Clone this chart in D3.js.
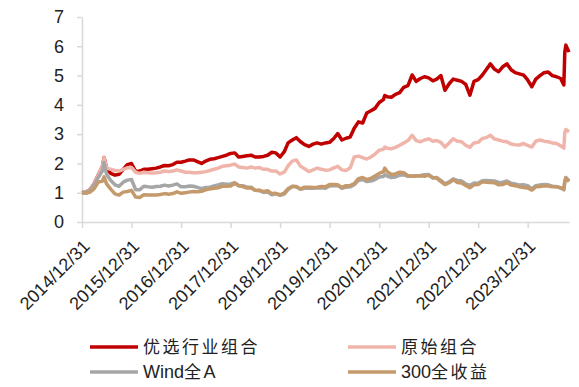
<!DOCTYPE html>
<html>
<head>
<meta charset="utf-8">
<script src="https://cdn.jsdelivr.net/npm/d3@7"></script>
<style>
    body { margin: 0; background: #fff; }
    svg { display: block; }
    .axis path, .axis line { stroke: #d9d9d9; stroke-width: 1.5; }
    .axis text { font-family: "Liberation Sans", Arial, sans-serif; fill: #222; }
    .legend text { font-family: "Liberation Sans", "Noto Sans CJK SC", sans-serif; fill: #222; }
</style>
</head>
<body>
<div id="chart"></div>
<script>
// month-end observations (plus a few daily extremes)
const dates = [
    "2014-12-31",
    "2015-01-31", "2015-02-28", "2015-03-31", "2015-04-30", "2015-05-31", "2015-06-12", "2015-06-30",
    "2015-07-31", "2015-08-31", "2015-09-30", "2015-10-31", "2015-11-30", "2015-12-31",
    "2016-01-31", "2016-02-29", "2016-03-31", "2016-04-30", "2016-05-31", "2016-06-30",
    "2016-07-31", "2016-08-31", "2016-09-30", "2016-10-31", "2016-11-30", "2016-12-31",
    "2017-01-31", "2017-02-28", "2017-03-31", "2017-04-30", "2017-05-31", "2017-06-30",
    "2017-07-31", "2017-08-31", "2017-09-30", "2017-10-31", "2017-11-30", "2017-12-31",
    "2018-01-31", "2018-02-28", "2018-03-31", "2018-04-30", "2018-05-31", "2018-06-30",
    "2018-07-31", "2018-08-31", "2018-09-30", "2018-10-31", "2018-11-30", "2018-12-31",
    "2019-01-31", "2019-02-28", "2019-03-31", "2019-04-30", "2019-05-31", "2019-06-30",
    "2019-07-31", "2019-08-31", "2019-09-30", "2019-10-31", "2019-11-30", "2019-12-31",
    "2020-01-31", "2020-02-29", "2020-03-31", "2020-04-30", "2020-05-31", "2020-06-30",
    "2020-07-31", "2020-08-31", "2020-09-30", "2020-10-31", "2020-11-30", "2020-12-31",
    "2021-01-31", "2021-02-10", "2021-02-28", "2021-03-31", "2021-04-30", "2021-05-31",
    "2021-06-30", "2021-07-31", "2021-08-31", "2021-09-30", "2021-10-31", "2021-11-30", "2021-12-31",
    "2022-01-31", "2022-02-28", "2022-03-31", "2022-04-30", "2022-05-31", "2022-06-30",
    "2022-07-31", "2022-08-31", "2022-09-30", "2022-10-31", "2022-11-30", "2022-12-31",
    "2023-01-31", "2023-02-28", "2023-03-31", "2023-04-30", "2023-05-31", "2023-06-30",
    "2023-07-31", "2023-08-31", "2023-09-30", "2023-10-31", "2023-11-30", "2023-12-31",
    "2024-01-31", "2024-02-29", "2024-03-31", "2024-04-30", "2024-05-31", "2024-06-30",
    "2024-07-31", "2024-08-31", "2024-09-23", "2024-09-30", "2024-10-08", "2024-10-31"
];

const youxuan = [
    1.00,
    1.03, 1.10, 1.32, 1.60, 1.90, 2.20, 1.85, 1.66, 1.60, 1.63, 1.80, 1.96, 2.00,
    1.72, 1.74, 1.80, 1.80, 1.82, 1.84, 1.88, 1.93, 1.92, 1.96, 2.04, 2.04,
    2.08, 2.12, 2.12, 2.06, 2.00, 2.08, 2.14, 2.16, 2.20, 2.24, 2.28, 2.34,
    2.36, 2.22, 2.24, 2.26, 2.28, 2.22, 2.22, 2.24, 2.28, 2.38, 2.36, 2.22,
    2.40, 2.70, 2.80, 2.88, 2.74, 2.64, 2.58, 2.66, 2.70, 2.66, 2.70, 2.72,
    2.85, 3.02, 2.80, 2.86, 2.90, 3.20, 3.42, 3.38, 3.72, 3.80, 3.88, 4.08,
    4.18, 4.32, 4.28, 4.26, 4.36, 4.42, 4.60, 4.66, 5.02, 4.80, 4.90, 4.96, 4.92,
    4.82, 4.88, 5.00, 4.50, 4.72, 4.88, 4.84, 4.80, 4.70, 4.33, 4.80, 4.86,
    5.02, 5.20, 5.40, 5.22, 5.13, 5.30, 5.40, 5.20, 5.10, 5.06, 5.02, 4.85,
    4.62, 4.88, 5.00, 5.10, 5.12, 5.00, 4.96, 4.90, 4.68, 5.80, 6.04, 5.80
];

const yuanshi = [
    1.00,
    1.03, 1.10, 1.32, 1.60, 1.90, 2.20, 1.85, 1.80, 1.76, 1.74, 1.80, 1.85, 1.86,
    1.70, 1.66, 1.70, 1.68, 1.67, 1.68, 1.70, 1.74, 1.72, 1.74, 1.78, 1.74,
    1.70, 1.70, 1.68, 1.68, 1.70, 1.72, 1.76, 1.80, 1.84, 1.90, 1.92, 1.94,
    1.98, 1.88, 1.86, 1.84, 1.88, 1.84, 1.86, 1.80, 1.80, 1.74, 1.74, 1.64,
    1.70, 1.92, 2.08, 2.12, 1.90, 1.82, 1.72, 1.78, 1.84, 1.80, 1.77, 1.78,
    1.85, 1.90, 1.78, 1.76, 1.85, 2.22, 2.25, 2.20, 2.15, 2.22, 2.32, 2.45,
    2.48, 2.56, 2.52, 2.50, 2.55, 2.62, 2.70, 2.78, 2.96, 2.78, 2.74, 2.80, 2.84,
    2.76, 2.78, 2.72, 2.56, 2.70, 2.84, 2.76, 2.74, 2.62, 2.55, 2.70, 2.72,
    2.85, 2.88, 2.96, 2.84, 2.80, 2.76, 2.74, 2.66, 2.64, 2.63, 2.68, 2.62,
    2.56, 2.76, 2.80, 2.76, 2.74, 2.70, 2.68, 2.60, 2.52, 3.05, 3.16, 3.08
];

const windA = [
    1.00,
    1.02, 1.08, 1.27, 1.52, 1.75, 2.03, 1.63, 1.42, 1.27, 1.22, 1.36, 1.43, 1.45,
    1.10, 1.10, 1.22, 1.20, 1.19, 1.21, 1.22, 1.26, 1.23, 1.26, 1.30, 1.20,
    1.20, 1.23, 1.22, 1.18, 1.14, 1.18, 1.19, 1.23, 1.27, 1.31, 1.29, 1.30,
    1.34, 1.25, 1.24, 1.19, 1.19, 1.08, 1.07, 1.01, 1.02, 0.93, 0.96, 0.91,
    0.95, 1.11, 1.22, 1.20, 1.12, 1.15, 1.15, 1.15, 1.16, 1.17, 1.15, 1.23,
    1.24, 1.25, 1.15, 1.19, 1.20, 1.27, 1.42, 1.45, 1.38, 1.40, 1.45, 1.54,
    1.55, 1.62, 1.57, 1.52, 1.54, 1.60, 1.61, 1.56, 1.57, 1.58, 1.59, 1.61, 1.62,
    1.50, 1.52, 1.42, 1.30, 1.37, 1.47, 1.42, 1.40, 1.30, 1.25, 1.33, 1.32,
    1.41, 1.42, 1.41, 1.40, 1.35, 1.36, 1.40, 1.32, 1.30, 1.26, 1.27, 1.24,
    1.13, 1.24, 1.26, 1.28, 1.27, 1.22, 1.21, 1.17, 1.10, 1.38, 1.52, 1.42
];

const hs300 = [
    1.00,
    0.98, 1.02, 1.14, 1.36, 1.40, 1.54, 1.30, 1.12, 0.96, 0.92, 1.02, 1.04, 1.08,
    0.85, 0.84, 0.93, 0.92, 0.92, 0.92, 0.94, 0.97, 0.95, 0.97, 1.03, 0.98,
    1.00, 1.02, 1.04, 1.03, 1.05, 1.10, 1.13, 1.15, 1.17, 1.22, 1.22, 1.23,
    1.32, 1.24, 1.21, 1.16, 1.17, 1.08, 1.09, 1.04, 1.07, 0.97, 0.98, 0.93,
    0.99, 1.14, 1.21, 1.21, 1.13, 1.19, 1.19, 1.18, 1.19, 1.21, 1.20, 1.28,
    1.28, 1.27, 1.18, 1.24, 1.24, 1.31, 1.48, 1.52, 1.45, 1.49, 1.57, 1.66,
    1.72, 1.84, 1.72, 1.62, 1.64, 1.70, 1.68, 1.58, 1.56, 1.57, 1.58, 1.56, 1.60,
    1.52, 1.50, 1.38, 1.28, 1.34, 1.45, 1.35, 1.33, 1.25, 1.17, 1.27, 1.28,
    1.37, 1.36, 1.35, 1.34, 1.27, 1.28, 1.34, 1.26, 1.24, 1.20, 1.18, 1.16,
    1.09, 1.20, 1.21, 1.24, 1.23, 1.20, 1.20, 1.16, 1.12, 1.38, 1.50, 1.38
];

const yTicks = [0, 1, 2, 3, 4, 5, 6, 7];
const xTickLabels = ["2014/12/31", "2015/12/31", "2016/12/31", "2017/12/31", "2018/12/31",
    "2019/12/31", "2020/12/31", "2021/12/31", "2022/12/31", "2023/12/31"];

// drawing order: red first, 300 on top
const seriesList = [
    { name: "优选行业组合", values: youxuan, color: "#c00000" },
    { name: "原始组合", values: yuanshi, color: "#f0b5aa" },
    { name: "Wind全A", values: windA, color: "#a6a6a6" },
    { name: "300全收益", values: hs300, color: "#c49a6c" }
];

const parseDate = d3.timeParse("%Y-%m-%d");
const parseTick = d3.timeParse("%Y/%m/%d");

const W = 579, H = 387;
const margin = { top: 17, left: 82 };
const plotW = 569 - margin.left;
const plotH = 222 - margin.top;

const svg = d3.select("#chart")
    .append("svg")
    .attr("width", W)
    .attr("height", H);

const g = svg.append("g")
    .attr("transform", `translate(${margin.left},${margin.top})`);

const x = d3.scaleTime()
    .domain([parseDate(dates[0]), parseDate(dates[dates.length - 1])])
    .range([0, plotW]);

const y = d3.scaleLinear()
    .domain([0, 7])
    .range([plotH, 0]);

// x axis
const xAxis = d3.axisBottom(x)
    .tickValues(xTickLabels.map(parseTick))
    .tickFormat(d3.timeFormat("%Y/%m/%d"))
    .tickSizeInner(6)
    .tickSizeOuter(0);

g.append("g")
    .attr("class", "axis")
    .attr("transform", `translate(0,${plotH})`)
    .call(xAxis)
    .selectAll("text")
    .attr("font-size", 18)
    .attr("text-anchor", "end")
    .attr("dx", 0)
    .attr("dy", 0)
    .attr("transform", "translate(2,19) rotate(-45)");

// y axis
const yAxis = d3.axisLeft(y)
    .tickValues(yTicks)
    .tickFormat(d3.format("d"))
    .tickSizeInner(5)
    .tickSizeOuter(0)
    .tickPadding(13);

g.append("g")
    .attr("class", "axis")
    .call(yAxis)
    .selectAll("text")
    .attr("font-size", 18);

// lines
const line = d3.line()
    .x((d, i) => x(parseDate(dates[i])))
    .y(d => y(d));

seriesList.forEach(s => {
    g.append("path")
        .datum(s.values)
        .attr("fill", "none")
        .attr("stroke", s.color)
        .attr("stroke-width", 3.5)
        .attr("stroke-linejoin", "round")
        .attr("d", line);
});

// legend
const legendPos = [
    { lx: 90, ly: 347 },
    { lx: 348, ly: 347 },
    { lx: 90, ly: 372 },
    { lx: 348, ly: 372 }
];

const legend = svg.append("g").attr("class", "legend");
const isCJK = ch => /[\u4e00-\u9fff]/.test(ch);

seriesList.forEach((s, i) => {
    const p = legendPos[i];
    legend.append("line")
        .attr("x1", p.lx)
        .attr("x2", p.lx + 48)
        .attr("y1", p.ly)
        .attr("y2", p.ly)
        .attr("stroke", s.color)
        .attr("stroke-width", 3.5);
    const t = legend.append("text")
        .attr("x", p.lx + 53)
        .attr("y", p.ly)
        .attr("dy", "0.36em")
        .attr("font-size", 18);
    // CJK glyphs are set a little wider apart, as in the source
    t.selectAll("tspan")
        .data(Array.from(s.name))
        .join("tspan")
        .attr("letter-spacing", ch => isCJK(ch) ? 2.5 : 0)
        .attr("font-size", ch => isCJK(ch) ? 17 : 18)
        .text(ch => ch);
});
</script>
</body>
</html>
